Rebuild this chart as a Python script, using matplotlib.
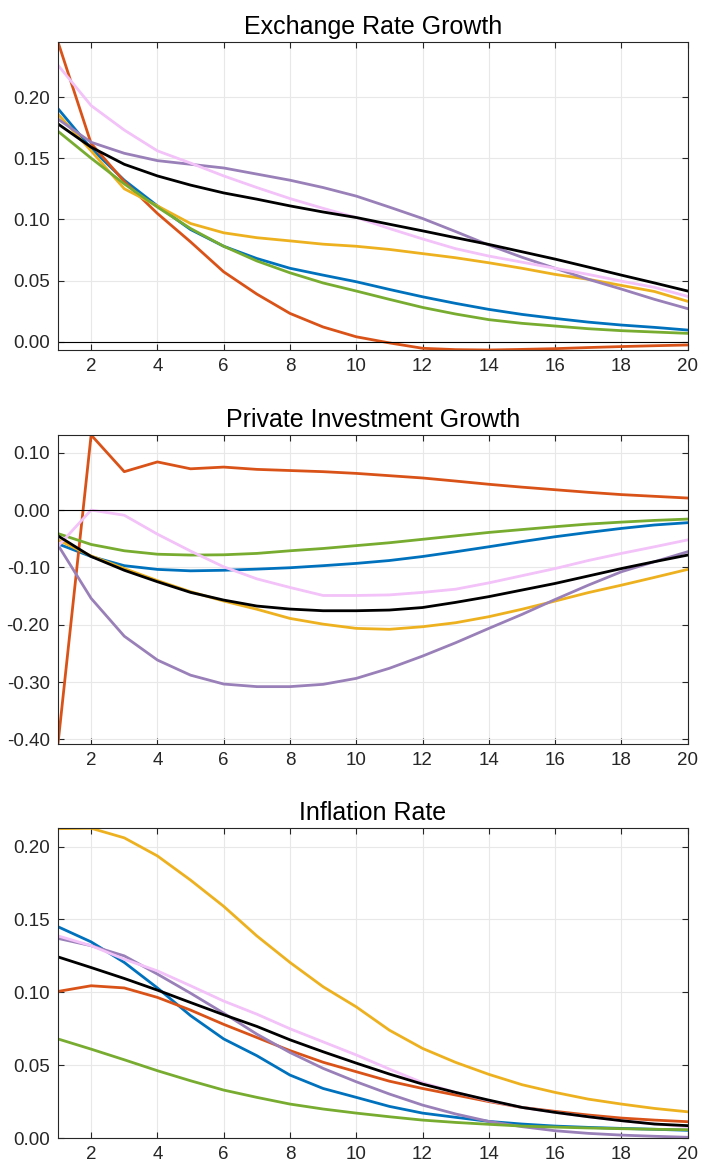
import matplotlib
matplotlib.use("Agg")
import matplotlib.pyplot as plt
from matplotlib.ticker import FormatStrFormatter, MultipleLocator

plt.rcParams['font.family'] = ['Liberation Sans', 'DejaVu Sans']

# horizon (quarters)
periods = list(range(1, 21))

# Exchange rate growth responses
er_blue = [0.1905, 0.158, 0.132, 0.111, 0.0917, 0.078, 0.068, 0.060, 0.0544, 0.049,
           0.0427, 0.0367, 0.0313, 0.0264, 0.0223, 0.019, 0.016, 0.0136, 0.0117, 0.0095]
er_red = [0.245, 0.162, 0.131, 0.1048, 0.0816, 0.0571, 0.0389, 0.0231, 0.012, 0.004,
          -0.001, -0.0054, -0.0065, -0.0068, -0.0063, -0.0057, -0.0048, -0.004, -0.0033, -0.0027]
er_yellow = [0.186, 0.156, 0.125, 0.111, 0.0966, 0.089, 0.085, 0.0824, 0.0797, 0.078,
             0.0754, 0.072, 0.0686, 0.0645, 0.060, 0.055, 0.051, 0.046, 0.041, 0.033]
er_purple = [0.182, 0.163, 0.154, 0.148, 0.145, 0.142, 0.137, 0.132, 0.126, 0.119,
             0.110, 0.1007, 0.090, 0.079, 0.069, 0.060, 0.051, 0.043, 0.0346, 0.027]
er_green = [0.172, 0.150, 0.129, 0.110, 0.0925, 0.078, 0.066, 0.0563, 0.048, 0.0414,
            0.0346, 0.028, 0.0226, 0.018, 0.015, 0.0128, 0.0106, 0.009, 0.0079, 0.0068]
er_pink = [0.226, 0.193, 0.173, 0.156, 0.146, 0.1355, 0.126, 0.117, 0.109, 0.1015,
           0.0925, 0.084, 0.076, 0.070, 0.065, 0.060, 0.055, 0.0495, 0.0444, 0.037]
er_black = [0.178, 0.159, 0.145, 0.1355, 0.128, 0.1216, 0.1165, 0.111, 0.106, 0.1015,
            0.096, 0.0906, 0.085, 0.0795, 0.0735, 0.0675, 0.061, 0.0544, 0.048, 0.0414]

# Private investment growth responses
inv_blue = [-0.059, -0.081, -0.097, -0.1035, -0.106, -0.105, -0.103, -0.1006, -0.097, -0.093,
            -0.088, -0.081, -0.0727, -0.064, -0.055, -0.0465, -0.039, -0.032, -0.026, -0.022]
inv_red = [-0.408, 0.131, 0.067, 0.084, 0.072, 0.075, 0.071, 0.069, 0.067, 0.064,
           0.060, 0.056, 0.0506, 0.045, 0.040, 0.0355, 0.031, 0.027, 0.024, 0.021]
inv_yellow = [-0.052, -0.080, -0.102, -0.123, -0.1424, -0.1587, -0.173, -0.189, -0.199, -0.2064,
              -0.208, -0.2035, -0.1965, -0.186, -0.173, -0.1587, -0.144, -0.131, -0.1174, -0.1035]
inv_purple = [-0.061, -0.154, -0.220, -0.2616, -0.288, -0.3035, -0.308, -0.308, -0.304, -0.2936,
              -0.276, -0.2547, -0.2314, -0.2064, -0.182, -0.156, -0.131, -0.1076, -0.090, -0.0727]
inv_green = [-0.041, -0.060, -0.071, -0.077, -0.0785, -0.078, -0.0756, -0.071, -0.067, -0.062,
             -0.057, -0.051, -0.045, -0.039, -0.034, -0.029, -0.0244, -0.021, -0.018, -0.0157]
inv_pink = [-0.063, 0.0, -0.009, -0.042, -0.0715, -0.099, -0.120, -0.135, -0.149, -0.149,
            -0.148, -0.1436, -0.138, -0.127, -0.1145, -0.102, -0.088, -0.0756, -0.064, -0.052]
inv_black = [-0.045, -0.081, -0.105, -0.125, -0.1436, -0.157, -0.1674, -0.1727, -0.1756, -0.1756,
             -0.1744, -0.170, -0.161, -0.151, -0.1395, -0.128, -0.115, -0.102, -0.090, -0.0785]

# Inflation rate responses
inf_blue = [0.145, 0.1346, 0.1205, 0.103, 0.084, 0.068, 0.0565, 0.0432, 0.034, 0.0279,
            0.0217, 0.0171, 0.0142, 0.0114, 0.0096, 0.0082, 0.0073, 0.0066, 0.006, 0.0053]
inf_red = [0.1006, 0.1045, 0.103, 0.0965, 0.0878, 0.078, 0.069, 0.060, 0.052, 0.0455,
           0.039, 0.034, 0.0295, 0.025, 0.021, 0.0183, 0.0158, 0.0137, 0.0123, 0.0112]
inf_yellow = [0.2123, 0.2126, 0.206, 0.1936, 0.177, 0.159, 0.1387, 0.1205, 0.1038, 0.090,
              0.074, 0.0615, 0.0519, 0.0437, 0.0366, 0.0313, 0.0267, 0.0233, 0.0203, 0.018]
inf_purple = [0.137, 0.132, 0.125, 0.1125, 0.0994, 0.0857, 0.0713, 0.0587, 0.0478, 0.0386,
              0.0302, 0.0226, 0.0165, 0.0114, 0.0078, 0.005, 0.0032, 0.002, 0.0012, 0.0005]
inf_green = [0.068, 0.061, 0.0537, 0.0462, 0.0393, 0.0329, 0.0279, 0.0233, 0.0199, 0.0171,
             0.0146, 0.0123, 0.0107, 0.0094, 0.0082, 0.0075, 0.0069, 0.0064, 0.006, 0.0057]
inf_pink = [0.1387, 0.132, 0.1227, 0.1147, 0.1045, 0.094, 0.085, 0.075, 0.066, 0.057,
            0.0473, 0.038, 0.0313, 0.0256, 0.021, 0.0176, 0.0146, 0.0119, 0.0096, 0.0078]
inf_black = [0.1243, 0.117, 0.1095, 0.1015, 0.093, 0.0846, 0.0766, 0.0674, 0.0592, 0.0514,
             0.0439, 0.037, 0.0313, 0.026, 0.021, 0.0176, 0.0146, 0.0119, 0.0096, 0.0085]

colors = ['#0072BD', '#D95319', '#EDB120', '#9A80B8', '#77AC30', '#F2C2F8', '#000000']

panels = [
    ('Exchange Rate Growth',
     [er_blue, er_red, er_yellow, er_purple, er_green, er_pink, er_black],
     0.05, True),
    ('Private Investment Growth',
     [inv_blue, inv_red, inv_yellow, inv_purple, inv_green, inv_pink, inv_black],
     0.10, True),
    ('Inflation Rate',
     [inf_blue, inf_red, inf_yellow, inf_purple, inf_green, inf_pink, inf_black],
     0.05, False),
]

fig = plt.figure(figsize=(7.02, 11.69), dpi=100)
bottoms = [0.7006, 0.3636, 0.0265]
heights = [0.2635, 0.2643, 0.2650]

for (title, series, step, zero_line), b, h in zip(panels, bottoms, heights):
    ax = fig.add_axes([0.0826, b, 0.897, h])
    for s, c in zip(series, colors):
        ax.plot(periods, s, color=c, lw=2.0)
    if zero_line:
        ax.axhline(0, color='black', lw=0.8)
    lo = min(min(s) for s in series)
    hi = max(max(s) for s in series)
    ax.set_ylim(min(lo, 0.0), hi)
    ax.set_xlim(1, 20)
    ax.xaxis.set_major_locator(MultipleLocator(2))
    ax.yaxis.set_major_locator(MultipleLocator(step))
    ax.yaxis.set_major_formatter(FormatStrFormatter('%.2f'))
    ax.grid(True, color='#e8e8e8', lw=0.8)
    ax.set_axisbelow(True)
    ax.tick_params(direction='in', top=True, right=True, length=4.5, width=0.8,
                   labelsize=13.5, colors='#262626', pad=6)
    for sp in ax.spines.values():
        sp.set_color('#262626')
        sp.set_linewidth(0.8)
    ax.set_title(title, fontsize=18, pad=6)

fig.savefig('out.png', dpi=100)
